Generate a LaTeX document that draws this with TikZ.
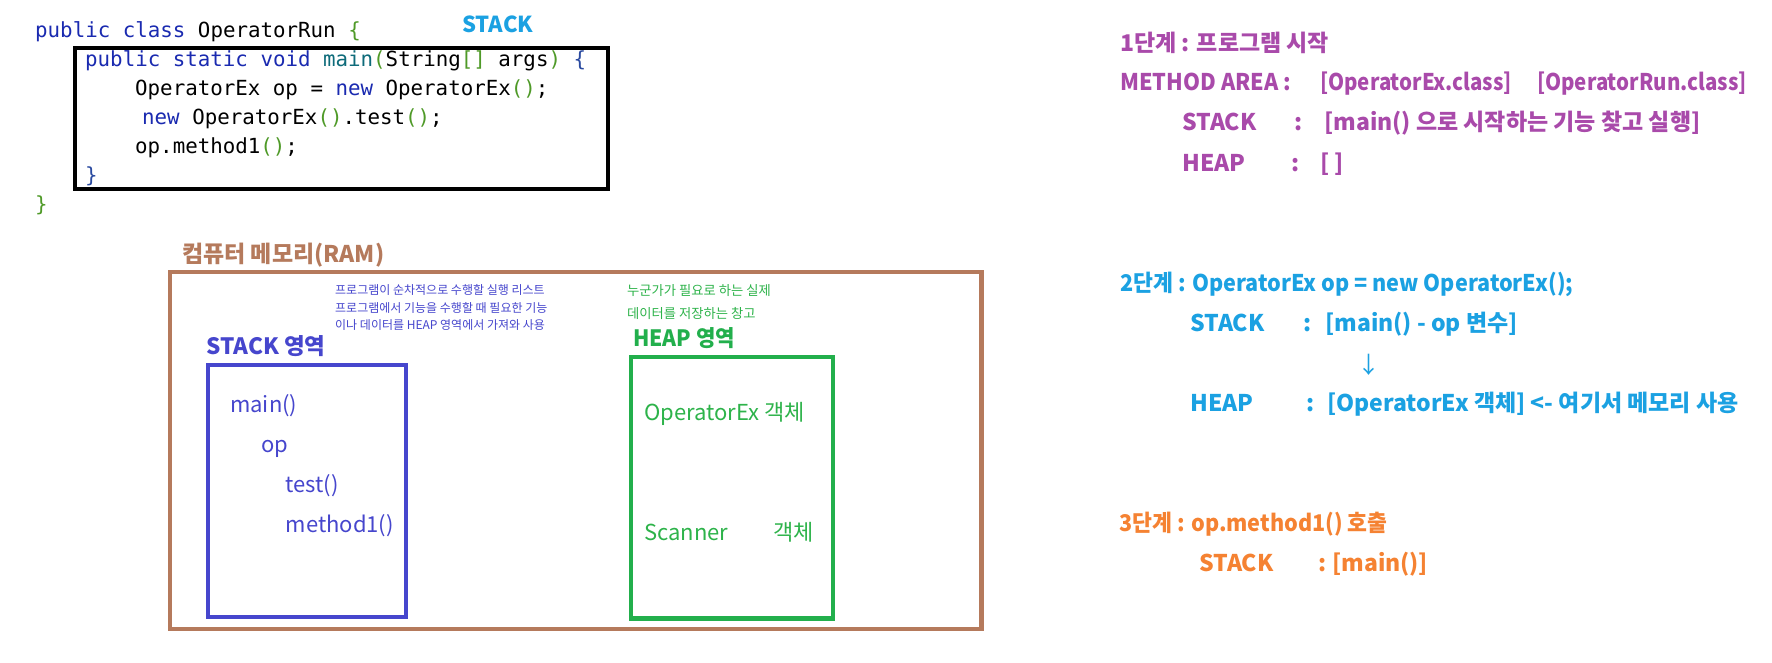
\documentclass[tikz,border=0pt]{standalone}
\usepackage{fontspec}
\setmainfont{Noto Sans CJK KR}
\newfontfamily\codefont{DejaVu Sans Mono}
\newfontfamily\nbA[FakeStretch=0.89]{Noto Sans CJK KR}
\newfontfamily\nbB[FakeStretch=0.94]{Noto Sans CJK KR}
\definecolor{kw}{HTML}{1A2AB0}
\definecolor{mteal}{HTML}{0E6B7A}
\definecolor{brg}{HTML}{4F9A28}
\definecolor{endb}{HTML}{2A4AA0}
\definecolor{skyb}{HTML}{1BA1E2}
\definecolor{brn}{HTML}{B57A5C}
\definecolor{stb}{HTML}{4646CD}
\definecolor{hpg}{HTML}{22AF4C}
\definecolor{hpt}{HTML}{2DB34A}
\definecolor{purp}{HTML}{A94AAA}
\definecolor{orng}{HTML}{F58232}
\tikzset{
  codeline/.style={font=\codefont\fontsize{20.8}{25}\selectfont, anchor=base west, inner sep=0pt},
  txt/.style={anchor=base west, inner sep=0pt},
  big/.style={txt, font=\fontsize{23}{28}\selectfont\bfseries},
  narrowA/.style={font=\nbA\fontsize{23}{28}\selectfont\bfseries},
  narrowB/.style={font=\nbB\fontsize{23}{28}\selectfont\bfseries},
  mid/.style={txt, font=\fontsize{22}{27}\selectfont},
  box/.style={draw, anchor=north west, inner sep=0pt, outer sep=0pt},
}
\begin{document}
\begin{tikzpicture}[x=1pt,y=-1pt]
\useasboundingbox[fill=white] (0,0) rectangle (1772,662);
% ---------- code ----------
\node[codeline] (c1) at (35,37) {\textcolor{kw}{public class} OperatorRun \textcolor{brg}{\{}};
\node[codeline] (c2) at (85,66) {\textcolor{kw}{public static void} \textcolor{mteal}{main}\textcolor{brg}{(}String\textcolor{brg}{[]} args\textcolor{brg}{)} \textcolor{endb}{\{}};
\node[codeline] (c3) at (135,95) {OperatorEx op = \textcolor{kw}{new} OperatorEx\textcolor{brg}{()};};
\node[codeline] (c4) at (142,124) {\textcolor{kw}{new} OperatorEx\textcolor{brg}{()}.test\textcolor{brg}{()};};
\node[codeline] (c5) at (135,153) {op.method1\textcolor{brg}{()};};
\node[codeline] (c6) at (85,182) {\textcolor{endb}{\}}};
\node[codeline] (c7) at (35,211) {\textcolor{brg}{\}}};
\node[box, line width=4pt, minimum width=533pt, minimum height=141pt] (mainbox) at (75,48) {};
\node[txt, font=\fontsize{22}{26}\selectfont\bfseries, text=skyb] (stacklbl) at (462,32) {STACK};
% ---------- memory ----------
\node[txt, font=\fontsize{23}{28}\selectfont\bfseries, text=brn] (ramlbl) at (182,262) {컴퓨터 메모리(RAM)};
\node[box, draw=brn, line width=4.5pt, minimum width=811.5pt, minimum height=357pt] (rambox) at (170,272) {};
\node[txt, font=\fontsize{12}{14}\selectfont, text=stb] (sd1) at (335,294) {프로그램이 순차적으로 수행할 실행 리스트};
\node[txt, font=\fontsize{12}{14}\selectfont, text=stb] (sd2) at (335,312) {프로그램에서 기능을 수행할 때 필요한 기능};
\node[txt, font=\fontsize{12}{14}\selectfont, text=stb] (sd3) at (335,329) {이나 데이터를 HEAP 영역에서 가져와 사용};
\node[txt, font=\fontsize{13.3}{16}\selectfont, text=hpt] (hd1) at (627,295) {누군가가 필요로 하는 실제};
\node[txt, font=\fontsize{13.3}{16}\selectfont, text=hpt] (hd2) at (627,318) {데이터를 저장하는 창고};
\node[txt, font=\fontsize{22.5}{27}\selectfont\bfseries, text=stb] (stacktitle) at (206,354) {STACK 영역};
\node[txt, font=\nbB\fontsize{22.5}{27}\selectfont\bfseries, text=hpg] (heaptitle) at (633,346) {HEAP 영역};
\node[box, draw=stb, line width=4pt, minimum width=198pt, minimum height=252pt] (stackbox) at (208,365) {};
\node[box, draw=hpg, line width=4.5pt, minimum width=202pt, minimum height=261.5pt] (heapbox) at (631,357) {};
\node[mid, text=stb] (s1) at (230,412) {main()};
\node[mid, text=stb] (s2) at (261,452) {op};
\node[mid, text=stb] (s3) at (285.5,492) {test()};
\node[mid, text=stb] (s4) at (285.5,532) {method1()};
\node[mid, text=hpt] (h1) at (644,420) {OperatorEx 객체};
\node[mid, text=hpt] (h2) at (644,540) {Scanner};
\node[mid, text=hpt] (h3) at (773,540) {객체};
% ---------- step 1 ----------
\begin{scope}[every node/.style={big, text=purp}]
\node (a1) at (1120,51.5) {1단계 : 프로그램 시작};
\node[narrowB] (a2) at (1120,90.5) {METHOD AREA :};
\node[narrowA] (a2b) at (1320,90.5) {[OperatorEx.class]};
\node[narrowA] (a2c) at (1537,90.5) {[OperatorRun.class]};
\node (a3) at (1182,130.5) {STACK};
\node (a3b) at (1294,130.5) {:};
\node (a3c) at (1324,130.5) {[main() 으로 시작하는 기능 찾고 실행]};
\node (a4) at (1182,171.5) {HEAP};
\node (a4b) at (1291,171.5) {:};
\node (a4c) at (1320,171.5) {[ ]};
\end{scope}
% ---------- step 2 ----------
\begin{scope}[every node/.style={big, text=skyb}]
\node[narrowB] (b1) at (1120,291.5) {2단계 : OperatorEx op = new OperatorEx();};
\node (b2) at (1190,331.5) {STACK};
\node (b2b) at (1303,331.5) {:};
\node (b2c) at (1325,331.5) {[main() - op 변수]};
\node (b4) at (1190,411.5) {HEAP};
\node (b4b) at (1306,411.5) {:};
\node (b4c) at (1327,411.5) {[OperatorEx 객체] <- 여기서 메모리 사용};
\end{scope}
\node[anchor=center, inner sep=0pt, font=\fontsize{23}{28}\selectfont, text=skyb] (barrow) at (1369,365) {↓};
% ---------- step 3 ----------
\begin{scope}[every node/.style={big, text=orng}]
\node[narrowB] (d1) at (1119,531.5) {3단계 : op.method1() 호출};
\node (d2) at (1199,571.5) {STACK};
\node (d2b) at (1318,571.5) {:};
\node (d2c) at (1332,571.5) {[main()]};
\end{scope}
\end{tikzpicture}
\end{document}
